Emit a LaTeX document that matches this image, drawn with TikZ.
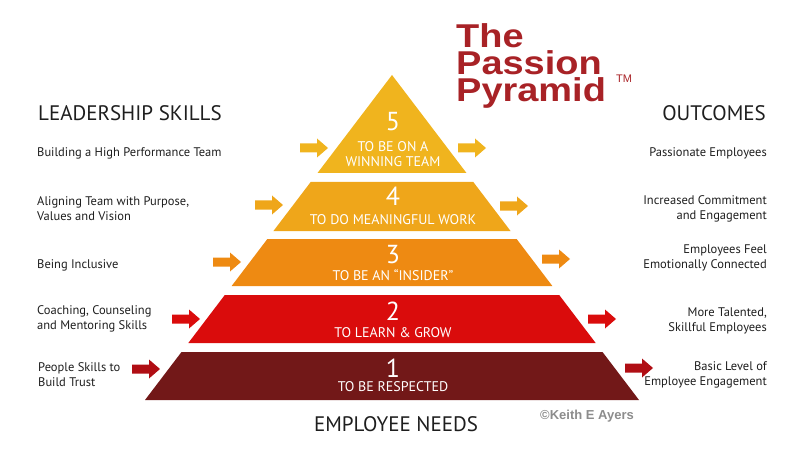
\documentclass[tikz,border=0pt]{standalone}
\usepackage{fontspec}
\setmainfont{PT Sans}
\newfontfamily\titlefont[FakeStretch=1.15]{Liberation Sans}
\newfontfamily\markfont{Liberation Sans}
\usetikzlibrary{positioning}
\definecolor{levelfive}{RGB}{240,180,30}
\definecolor{levelfour}{RGB}{239,166,26}
\definecolor{levelthree}{RGB}{238,138,18}
\definecolor{leveltwo}{RGB}{218,12,12}
\definecolor{levelone}{RGB}{114,24,24}
\definecolor{arrowone}{RGB}{176,14,20}
\definecolor{titlered}{RGB}{168,34,38}
\definecolor{copygrey}{RGB}{140,140,140}
\definecolor{labeltext}{RGB}{30,30,30}
\tikzset{
  skill/.style={anchor=west, align=left, inner sep=0pt, text=labeltext,
    font=\fontsize{12.5}{15}\selectfont},
  outcome/.style={anchor=east, align=right, inner sep=0pt, text=labeltext,
    font=\fontsize{12.5}{15}\selectfont},
  heading/.style={inner sep=0pt, text=labeltext, font=\fontsize{21}{24}\selectfont},
  levelnum/.style={anchor=base, inner sep=0pt, text=white, font=\fontsize{26}{26}\selectfont},
  levelname/.style={anchor=base, align=center, inner sep=0pt, text=white,
    font=\fontsize{14}{15}\selectfont},
  blockarrow/.pic={\fill (0,-4.5) -- (17,-4.5) -- (17,-9.5) -- (28,0) -- (17,9.5) -- (17,4.5) -- (0,4.5) -- cycle;}
}
\begin{document}
\begin{tikzpicture}[x=1pt, y=-1pt]
  \useasboundingbox (0,0) rectangle (800,457);
  \foreach \top/\bot/\col in {75/173/levelfive, 182/231/levelfour, 239/286/levelthree,
      295/343/leveltwo, 352/400/levelone}{
    \pgfmathsetmacro\wt{(\top-75)*0.76}
    \pgfmathsetmacro\wb{(\bot-75)*0.76}
    \fill[\col] ({392-\wt},\top) -- ({392+\wt},\top) -- ({392+\wb},\bot) -- ({392-\wb},\bot) -- cycle;
  }
  \node[levelnum] (n5) at (393,131) {5};
  \node[levelname] (t5) at (393,167) {TO BE ON A\\WINNING TEAM};
  \node[levelnum] (n4) at (393,205) {4};
  \node[levelname] (t4) at (393,224) {TO DO MEANINGFUL WORK};
  \node[levelnum] (n3) at (393,263) {3};
  \node[levelname] (t3) at (393,280) {TO BE AN “INSIDER”};
  \node[levelnum] (n2) at (393,320) {2};
  \node[levelname] (t2) at (393,337) {TO LEARN \& GROW};
  \node[levelnum] (n1) at (393,377) {1};
  \node[levelname] (t1) at (393,391) {TO BE RESPECTED};

  \foreach \x/\y/\col in {300/148/levelfive, 458/148/levelfive, 255/205/levelfour,
      500/206/levelfour, 213/262/levelthree, 542/259/levelthree, 172/319/leveltwo,
      588/319/leveltwo, 132/369/arrowone, 625/368/arrowone}
    \pic[\col] at (\x,\y) {blockarrow};

  \node[heading, anchor=base west] (skills) at (38,121) {LEADERSHIP SKILLS};
  \node[heading, anchor=base east] (outcomes) at (766,121) {OUTCOMES};
  \node[heading, anchor=base] (needs) at (396,431) {EMPLOYEE NEEDS};

  \node[skill] (s5) at (37,153) {Building a High Performance Team};
  \node[skill] (s4) at (37,209) {Aligning Team with Purpose,\\Values and Vision};
  \node[skill] (s3) at (37,265) {Being Inclusive};
  \node[skill] (s2) at (37,319) {Coaching, Counseling\\and Mentoring Skills};
  \node[skill] (s1) at (38,375) {People Skills to\\Build Trust};

  \node[outcome] (o5) at (767,153) {Passionate Employees};
  \node[outcome] (o4) at (767,209) {Increased Commitment\\and Engagement};
  \node[outcome] (o3) at (767,258) {Employees Feel\\Emotionally Connected};
  \node[outcome] (o2) at (767,321) {More Talented,\\Skillful Employees};
  \node[outcome] (o1) at (767,375) {Basic Level of\\Employee Engagement};

  \node[anchor=base west, inner sep=0pt, text=titlered, align=left,
    font=\titlefont\bfseries\fontsize{33}{27}\selectfont] (title) at (456,102) {The\\Passion\\Pyramid};
  \node[anchor=base west, inner sep=0pt, text=titlered, font=\markfont\fontsize{11}{11}\selectfont]
    (tm) at (616,83) {TM};
  \node[anchor=base west, inner sep=0pt, text=copygrey, font=\markfont\bfseries\fontsize{13}{13}\selectfont]
    (copy) at (540,419) {©Keith E Ayers};
\end{tikzpicture}
\end{document}
